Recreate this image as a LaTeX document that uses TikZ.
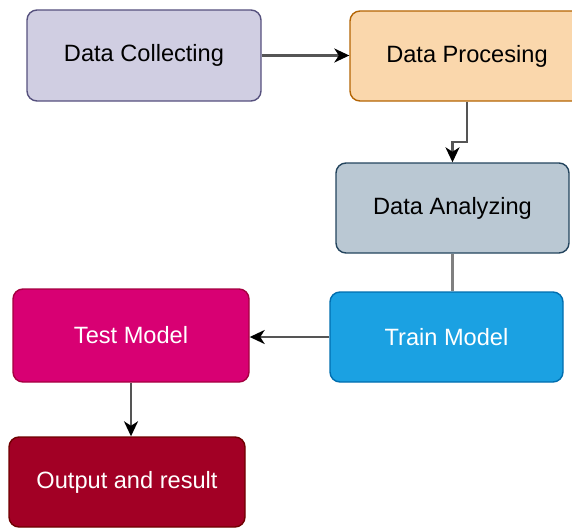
\documentclass[tikz,border=0pt]{standalone}
\usepackage{fontspec}
\setmainfont{Liberation Sans}
\usetikzlibrary{arrows.meta,positioning}

\definecolor{collectFill}{HTML}{D0CEE2}
\definecolor{collectLine}{HTML}{56517E}
\definecolor{processFill}{HTML}{FAD7AC}
\definecolor{processLine}{HTML}{B46504}
\definecolor{analyzeFill}{HTML}{BAC8D3}
\definecolor{analyzeLine}{HTML}{23445D}
\definecolor{trainFill}{HTML}{1BA1E2}
\definecolor{trainLine}{HTML}{006EAF}
\definecolor{testFill}{HTML}{D80073}
\definecolor{testLine}{HTML}{A50040}
\definecolor{outFill}{HTML}{A20025}
\definecolor{outLine}{HTML}{6F0000}
\definecolor{wireColor}{HTML}{555555}

\tikzset{
  stage/.style={draw, rounded corners=10pt, line width=1.4pt,
    minimum width=234pt, minimum height=90pt, inner sep=0pt,
    font=\fontsize{23.6}{28}\selectfont, text=black},
  wire/.style={draw=wireColor, line width=2.2pt},
  flow/.style={wire, -{Stealth[length=15pt,width=14pt,inset=4.5pt,black]}}
}

\begin{document}
\begin{tikzpicture}[x=1pt,y=-1pt]
  \useasboundingbox (0,0) rectangle (572,527);
  \clip (0,0) rectangle (572,527);

  % pipeline stages
  \node[stage, fill=collectFill, draw=collectLine, minimum height=91pt] (dc) at (144,55.5) {Data Collecting};
  \node[stage, fill=processFill, draw=processLine] (dp) at (467,56) {Data Procesing};
  \node[stage, fill=analyzeFill, draw=analyzeLine, minimum width=233pt] (da) at (452.5,208) {Data Analyzing};
  \node[stage, fill=trainFill, draw=trainLine, minimum width=233pt, text=white] (tr) at (446.5,337) {Train Model};
  \node[stage, fill=testFill, draw=testLine, minimum width=236pt, minimum height=93pt, text=white] (tm) at (131,335.5) {Test Model};
  \node[stage, fill=outFill, draw=outLine, minimum width=236pt, text=white] (out) at (127,482) {Output and result};

  % connectors
  \draw[flow] (dc.east) -- (dc.east -| dp.west);
  \coordinate (bend) at (467,142);
  \draw[flow] (dp.south) -- (bend) -| (da.north);
  \draw[wire, draw=gray] (da.south) -- (da.south |- tr.north);
  \draw[flow] (tr.west) -- (tr.west -| tm.east);
  \draw[flow] (tm.south) -- (tm.south |- out.north);
\end{tikzpicture}
\end{document}
